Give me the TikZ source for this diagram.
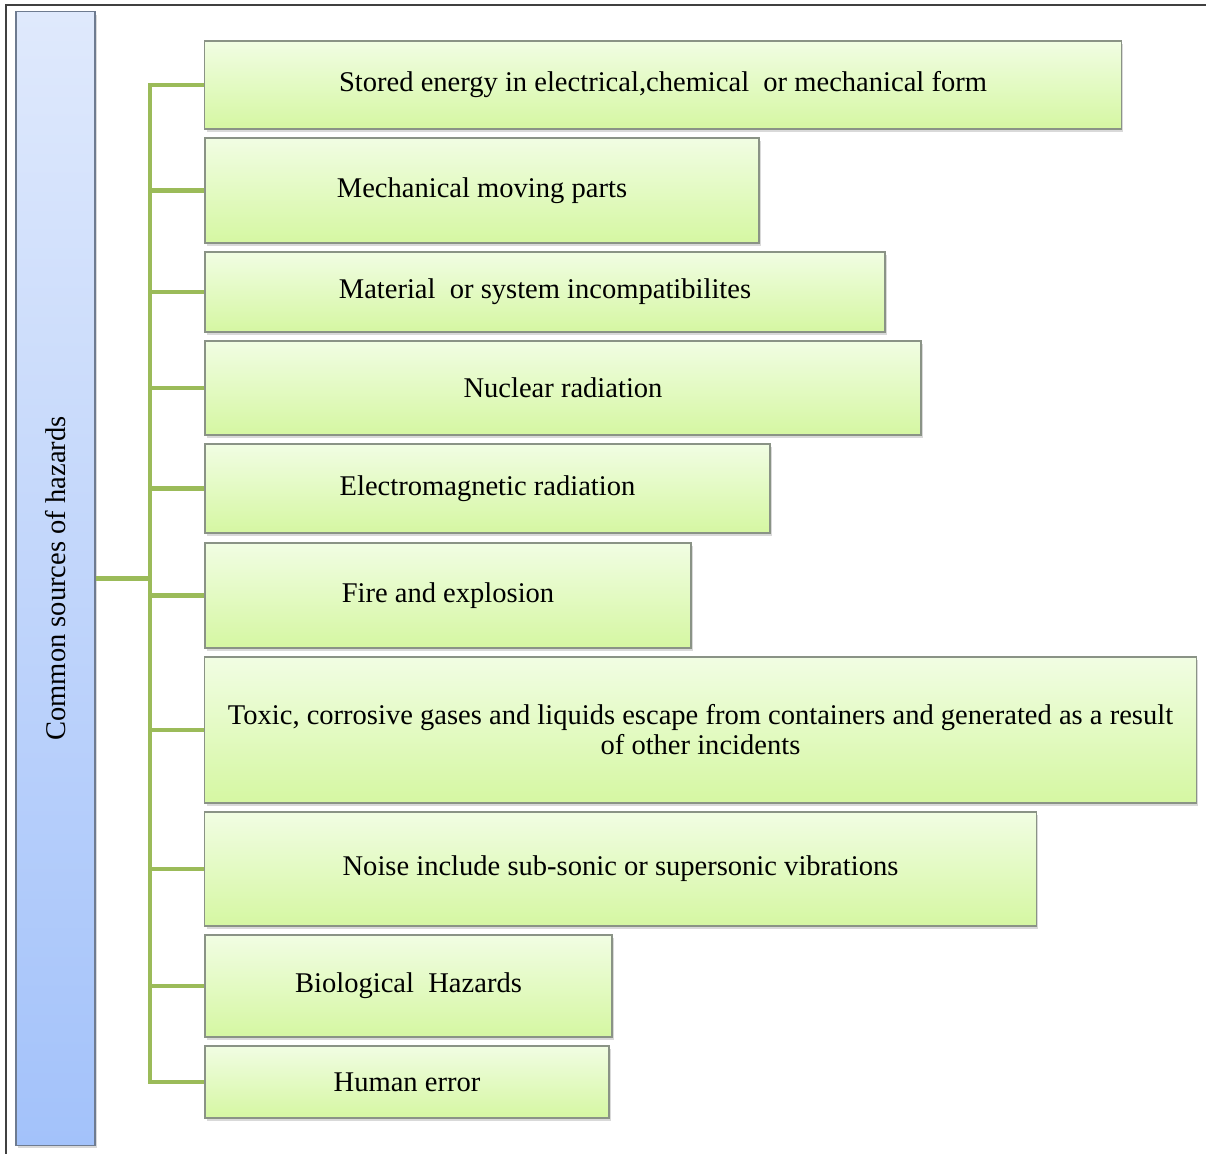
\documentclass[tikz,border=0pt]{standalone}
\usepackage{fontspec}
\setmainfont{Liberation Serif}
\usetikzlibrary{shadows}

\definecolor{branchgreen}{HTML}{9BBB59}
\definecolor{itemtop}{HTML}{F1FDE3}
\definecolor{itembottom}{HTML}{D5F7A2}
\definecolor{itemborder}{HTML}{8A9386}
\definecolor{roottop}{HTML}{DFE9FC}
\definecolor{rootbottom}{HTML}{A3C2FA}
\definecolor{rootborder}{HTML}{6E7B90}

\begin{document}
\begin{tikzpicture}[x=0.025cm, y=-0.025cm,
    hazard/.style={draw=itemborder, line width=0.03cm, top color=itemtop, bottom color=itembottom,
        drop shadow={shadow xshift=0.05cm, shadow yshift=-0.08cm, opacity=0.3},
        inner sep=0pt, align=center, font=\fontsize{20.3}{21.3}\selectfont},
    branch/.style={draw=branchgreen, line width=0.12cm}]
    \useasboundingbox (0,0) rectangle (1206,1154);

    % Outer frame (left and top edges only)
    \draw[black!75, line width=0.04cm] (6,1154) -- (6,5) -- (1206,5);

    % Root box, text turned upwards
    \node[draw=rootborder, line width=0.03cm, rotate=90, top color=roottop, bottom color=rootbottom,
        drop shadow={shadow xshift=0.05cm, shadow yshift=-0.08cm, opacity=0.3},
        minimum width=28.325cm, minimum height=1.975cm, inner sep=0pt,
        font=\fontsize{20.3}{21.3}\selectfont] (root) at (55.5,578.5) {Common sources of hazards};

    % Hazard boxes
    \node[hazard, minimum width=22.9cm, minimum height=2.2cm] (stored) at (663,85)
        {Stored energy in electrical,chemical\ \ or mechanical form};
    \node[hazard, minimum width=13.85cm, minimum height=2.625cm] (moving) at (482,190.5)
        {Mechanical moving parts};
    \node[hazard, minimum width=17cm, minimum height=2cm] (material) at (545,292)
        {Material\ \ or system incompatibilites};
    \node[hazard, minimum width=17.9cm, minimum height=2.35cm] (nuclear) at (563,388)
        {Nuclear radiation};
    \node[hazard, minimum width=14.125cm, minimum height=2.225cm] (electro) at (487.5,488.5)
        {Electromagnetic radiation};
    \node[hazard, minimum width=12.15cm, minimum height=2.625cm] (fire) at (448,595.5)
        {Fire and explosion};
    \node[hazard, minimum width=24.775cm, minimum height=3.65cm] (toxic) at (700.5,730)
        {Toxic, corrosive gases and liquids escape from containers and generated as a result\\of other incidents};
    \node[hazard, minimum width=20.775cm, minimum height=2.85cm] (noise) at (620.5,869)
        {Noise include sub-sonic or supersonic vibrations};
    \node[hazard, minimum width=10.175cm, minimum height=2.55cm] (bio) at (408.5,986)
        {Biological\ \ Hazards};
    \node[hazard, minimum width=10.1cm, minimum height=1.8cm] (human) at (407,1082)
        {Human error};

    % Connectors
    \coordinate (hub) at (150,578.5);
    \draw[branch] (root.south) -- (hub);
    \draw[branch] (stored.west) -| (hub) |- (human.west);
    \draw[branch] (hub |- moving.west) -- (moving.west);
    \draw[branch] (hub |- material.west) -- (material.west);
    \draw[branch] (hub |- nuclear.west) -- (nuclear.west);
    \draw[branch] (hub |- electro.west) -- (electro.west);
    \draw[branch] (hub |- fire.west) -- (fire.west);
    \draw[branch] (hub |- toxic.west) -- (toxic.west);
    \draw[branch] (hub |- noise.west) -- (noise.west);
    \draw[branch] (hub |- bio.west) -- (bio.west);
\end{tikzpicture}
\end{document}
